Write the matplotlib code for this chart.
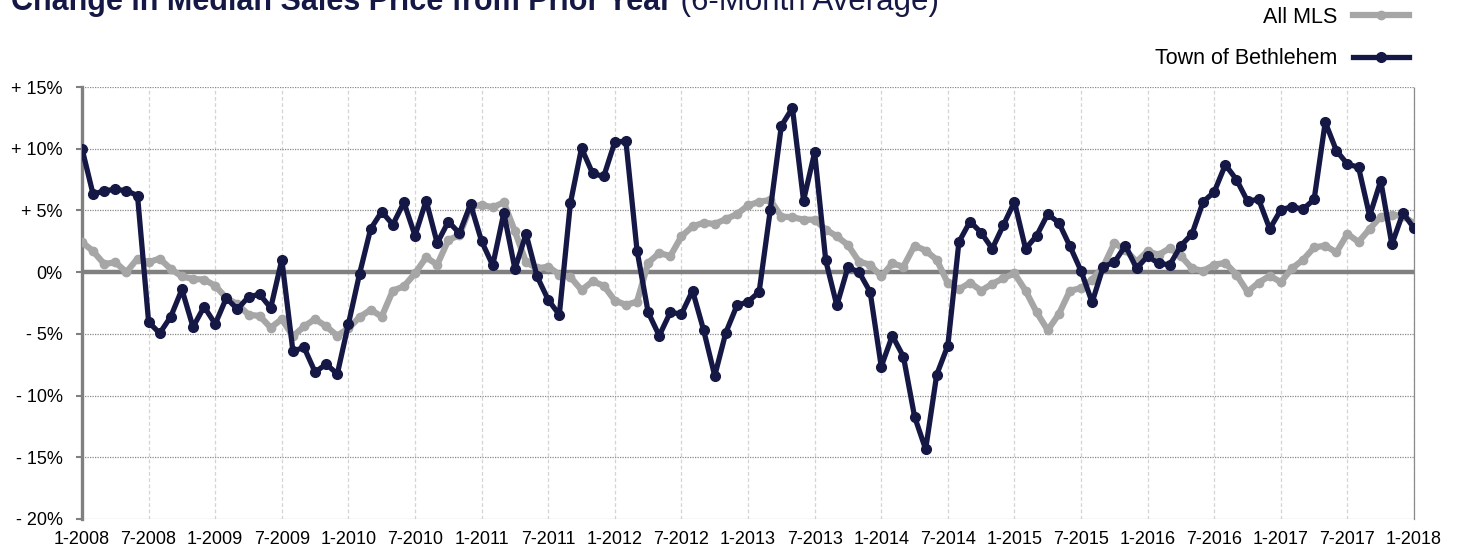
import numpy as np
import matplotlib
matplotlib.use("Agg")
from matplotlib import pyplot as plt

plt.rcParams['font.family'] = ['Liberation Sans', 'DejaVu Sans']

# monthly points, 1-2008 .. 1-2018
tick_labels = ["1-2008", "7-2008", "1-2009", "7-2009", "1-2010", "7-2010",
               "1-2011", "7-2011", "1-2012", "7-2012", "1-2013", "7-2013",
               "1-2014", "7-2014", "1-2015", "7-2015", "1-2016", "7-2016",
               "1-2017", "7-2017", "1-2018"]

all_mls = [2.43, 1.7, 0.65, 0.8, 0.0, 1.1, 0.8, 1.1, 0.25, -0.35,
           -0.55, -0.6, -1.1, -2.1, -2.6, -3.45, -3.55, -4.5, -3.8, -5.2,
           -4.4, -3.8, -4.4, -5.15, -4.55, -3.65, -3.05, -3.6, -1.5, -1.15,
           -0.1, 1.2, 0.6, 2.6, 3.0, 5.3, 5.45, 5.25, 5.65, 3.3,
           0.8, 0.3, 0.45, -0.2, -0.4, -1.45, -0.75, -1.1, -2.3, -2.65,
           -2.4, 0.75, 1.55, 1.3, 2.9, 3.7, 4.0, 3.9, 4.3, 4.7,
           5.4, 5.7, 5.85, 4.5, 4.45, 4.25, 4.25, 3.45, 2.9, 2.2,
           0.85, 0.6, -0.35, 0.7, 0.45, 2.15, 1.75, 1.0, -0.9, -1.4,
           -0.85, -1.5, -0.95, -0.5, -0.1, -1.5, -3.25, -4.7, -3.4, -1.5,
           -1.3, -0.6, 0.45, 2.35, 1.8, 0.85, 1.7, 1.4, 1.95, 1.3,
           0.3, 0.1, 0.6, 0.75, -0.2, -1.6, -0.85, -0.3, -0.8, 0.3,
           1.0, 2.0, 2.15, 1.6, 3.1, 2.45, 3.5, 4.5, 4.65, 4.55,
           3.95]

bethlehem = [10.0, 6.3, 6.6, 6.7, 6.6, 6.2, -4.05, -4.95, -3.6, -1.4,
             -4.45, -2.8, -4.2, -2.1, -3.0, -2.0, -1.8, -2.9, 1.0, -6.4,
             -6.1, -8.1, -7.45, -8.25, -4.2, -0.15, 3.5, 4.9, 3.85, 5.65,
             2.95, 5.8, 2.35, 4.1, 3.15, 5.5, 2.5, 0.55, 4.8, 0.25,
             3.1, -0.35, -2.25, -3.45, 5.6, 10.05, 8.0, 7.75, 10.55, 10.6,
             1.75, -3.25, -5.15, -3.25, -3.4, -1.5, -4.7, -8.4, -4.9, -2.7,
             -2.4, -1.6, 5.0, 11.85, 13.3, 5.8, 9.7, 0.95, -2.7, 0.4,
             0.0, -1.6, -7.65, -5.15, -6.85, -11.7, -14.35, -8.3, -5.95, 2.45,
             4.1, 3.2, 1.9, 3.8, 5.7, 1.9, 2.95, 4.7, 4.0, 2.1,
             0.1, -2.45, 0.45, 0.8, 2.15, 0.3, 1.3, 0.7, 0.6, 2.15,
             3.1, 5.7, 6.5, 8.7, 7.5, 5.75, 5.9, 3.5, 5.05, 5.3,
             5.1, 5.9, 12.15, 9.85, 8.75, 8.5, 4.55, 7.4, 2.25, 4.8,
             3.55]

y_ticks = [15, 10, 5, 0, -5, -10, -15, -20]
y_labels = ["+ 15%", "+ 10%", "+ 5%", "0%", "- 5%", "- 10%", "- 15%", "- 20%"]

navy = "#151845"
grey = "#a6a6a6"

months = np.arange(len(bethlehem))

fig = plt.figure(figsize=(14.62, 5.51), dpi=100)
ax = fig.add_axes([0.0561, 0.0581, 0.9111, 0.784])

ax.plot(months, all_mls, color=grey, lw=4.5, marker="o", ms=6,
        label="All MLS", zorder=3, solid_joinstyle="round")
ax.plot(months, bethlehem, color=navy, lw=3.8, marker="o", ms=7,
        label="Town of Bethlehem", zorder=4, solid_joinstyle="round")

ax.axhline(0, color="#808080", lw=3.2, zorder=2)

ax.set_xlim(0, 120)
ax.set_ylim(-20, 15)
ax.set_xticks(np.arange(0, 121, 6))
ax.set_xticklabels(tick_labels, fontsize=13)
ax.set_yticks(y_ticks)
ax.set_yticklabels(y_labels, fontsize=13)

ax.grid(axis="y", color="#8a8a8a", ls=(0, (1, 1)), lw=0.9, zorder=1)
ax.grid(axis="x", color="#d4d4d4", ls=(0, (3, 2)), lw=0.9, zorder=1)

for s in ["top", "bottom"]:
    ax.spines[s].set_visible(False)
ax.spines["right"].set_color("#8a8a8a")
ax.spines["right"].set_linestyle((0, (1, 1)))
ax.spines["right"].set_linewidth(0.9)
ax.spines["left"].set_color("#808080")
ax.spines["left"].set_linewidth(2.4)

ax.tick_params(axis="y", length=4, width=1.5, color="#808080", pad=10)
ax.tick_params(axis="x", length=0, pad=9)

fig.legend(loc="upper right", bbox_to_anchor=(0.9645, 0.99), frameon=False,
           fontsize=15.5, markerfirst=False, handlelength=2.6,
           handletextpad=0.75, labelspacing=0.95, borderpad=0.05,
           borderaxespad=0)

# title sits partly above the top edge, as in the source image
t1 = fig.text(0.0075, 1 - 10 / 551, "Change in Median Sales Price from Prior Year",
              fontsize=22, fontweight="bold", color=navy, va="baseline")
ax.annotate(" (6-Month Average)", xy=(1, 0), xycoords=t1, fontsize=22.5,
            color=navy, va="bottom", ha="left", annotation_clip=False)

fig.savefig("out.png", dpi=100)
